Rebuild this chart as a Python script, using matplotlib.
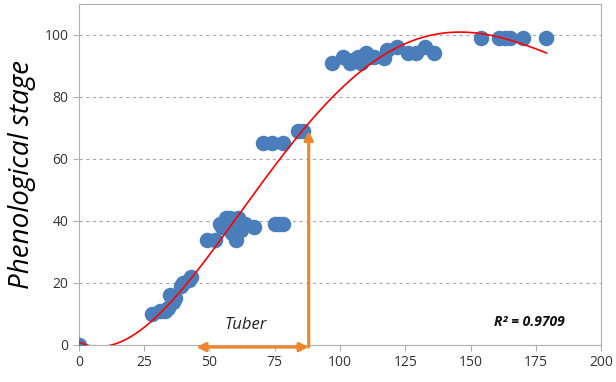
import matplotlib
matplotlib.use('Agg')
import matplotlib.pyplot as plt
import numpy as np

# days after planting vs phenological stage
days = [0, 28, 31, 33, 34, 35, 36, 37, 39, 40, 42, 43,
        49, 52, 54, 55, 56.5, 58, 58.5, 59, 60, 61, 62, 63.5, 67,
        75, 76.5, 78,
        70.5, 74, 78, 84, 86,
        97, 101, 104, 105, 107, 108, 110, 111, 113, 117, 118, 122, 126, 129,
        132.5, 136,
        154, 161, 163, 165, 170, 179]
stage = [0, 10, 11, 11, 12, 16, 14, 15, 19, 20, 21, 22,
         34, 34, 39, 38, 41, 41, 36, 40, 34, 41, 37, 39, 38,
         39, 39, 39,
         65, 65, 65, 69, 69,
         91, 93, 91, 92, 93, 91, 94, 93, 93, 92.5, 95, 96, 94, 94,
         96, 94,
         99, 99, 99, 99, 99, 99]

# points along the published trend line
trend_x = [12.6, 23.4, 45, 65, 86, 95, 104.6, 115.3, 132, 147, 166, 179]
trend_y = [0, 4.8, 23, 47, 69, 79, 85.5, 92.6, 98.4, 102, 97.7, 94.2]

r2_text = 'R² = 0.9709'
tuber_start, tuber_end = 45, 88
tuber_stage = 69

blue = '#4a7ebb'
orange = '#f0862a'

fig = plt.figure(figsize=(6.16, 3.82), dpi=100)
ax = fig.add_axes((0.128, 0.097, 0.848, 0.893))

ax.scatter(days, stage, s=125, color=blue, zorder=3, linewidths=0)

# smooth polynomial trend line through the read-off points
coef = np.polyfit(trend_x, trend_y, 4)
xt = np.linspace(min(days), max(days), 300)
ax.plot(xt, np.polyval(coef, xt), color='red', lw=1.2, zorder=4)

# tuber period arrows
ax.annotate('', xy=(tuber_end, tuber_stage), xytext=(tuber_end, -0.7),
            arrowprops=dict(arrowstyle='-|>', color=orange, lw=2.2,
                            mutation_scale=13, shrinkA=0, shrinkB=0),
            zorder=5, annotation_clip=False)
ax.annotate('', xy=(tuber_start, -0.7), xytext=(tuber_end, -0.7),
            arrowprops=dict(arrowstyle='<|-|>', color=orange, lw=2.2,
                            mutation_scale=13, shrinkA=0, shrinkB=0),
            zorder=5, annotation_clip=False)
ax.text(64, 6.3, 'Tuber', style='italic', fontsize=12, ha='center',
        va='center', color='#222222', family='Open Sans')
ax.text(186, 7.5, r2_text, style='italic', weight='bold', fontsize=10,
        ha='right', va='center', color='#111111', family='Open Sans')

ax.set_xlim(0, 200)
ax.set_ylim(0, 110)
ax.set_xticks(np.arange(0, 201, 25))
ax.set_yticks(np.arange(0, 101, 20))
ax.yaxis.grid(True, ls=(0, (3, 3)), color='#a8a8a8', lw=0.8)
ax.set_axisbelow(True)
for sp in ax.spines.values():
    sp.set_color('#b0b0b0')
ax.tick_params(colors='#b0b0b0', labelcolor='#333333', labelsize=10,
               length=4, direction='out')
for lab in ax.get_xticklabels() + ax.get_yticklabels():
    lab.set_family('Open Sans')

ax.set_ylabel('Phenological stage', style='italic', fontsize=20,
              family='Open Sans', labelpad=6)

fig.savefig('out.png', dpi=100)
